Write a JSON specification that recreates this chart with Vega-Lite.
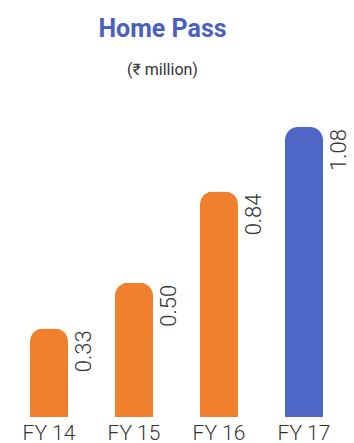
{
  "$schema": "https://vega.github.io/schema/vega-lite/v6.json",
  "autosize": "none",
  "width": 340,
  "height": 327,
  "padding": {"left": 6.5, "top": 90, "right": 7.5, "bottom": 26},
  "background": "white",
  "config": {"view": {"stroke": null}},
  "title": {
    "text": "Home Pass",
    "subtitle": "(₹ million)",
    "anchor": "middle",
    "frame": "group",
    "dx": -14,
    "font": "Roboto",
    "fontSize": 25,
    "fontWeight": "bold",
    "color": "#4a5fbf",
    "subtitleFont": "Roboto",
    "subtitleFontSize": 16,
    "subtitleColor": "#333333",
    "subtitlePadding": 20,
    "offset": 12
  },
  "data": {
    "values": [
      {"year": "FY 14", "value": 0.33, "group": "past"},
      {"year": "FY 15", "value": 0.50, "group": "past"},
      {"year": "FY 16", "value": 0.84, "group": "past"},
      {"year": "FY 17", "value": 1.08, "group": "current"}
    ]
  },
  "encoding": {
    "x": {
      "field": "year",
      "type": "nominal",
      "sort": null,
      "scale": {"paddingInner": 0.553, "paddingOuter": 0.2765},
      "axis": {
        "title": null,
        "domain": false,
        "ticks": false,
        "labelAngle": 0,
        "labelFont": "Roboto",
        "labelFontWeight": 300,
        "labelFontSize": 21,
        "labelColor": "#333333",
        "labelPadding": 5
      }
    },
    "y": {
      "field": "value",
      "type": "quantitative",
      "scale": {"domain": [0, 1.218], "nice": false},
      "axis": null
    }
  },
  "layer": [
    {
      "mark": {"type": "bar", "cornerRadiusTopLeft": 13, "cornerRadiusTopRight": 13},
      "encoding": {
        "color": {
          "field": "group",
          "type": "nominal",
          "scale": {"domain": ["past", "current"], "range": ["#f0802e", "#4e67c7"]},
          "legend": null
        }
      }
    },
    {
      "mark": {
        "type": "text",
        "angle": 270,
        "align": "right",
        "baseline": "middle",
        "dy": 35,
        "dx": -2,
        "font": "Roboto",
        "fontWeight": 300,
        "fontSize": 22,
        "color": "#333333"
      },
      "encoding": {
        "text": {"field": "value", "type": "quantitative", "format": ".2f"}
      }
    }
  ]
}
